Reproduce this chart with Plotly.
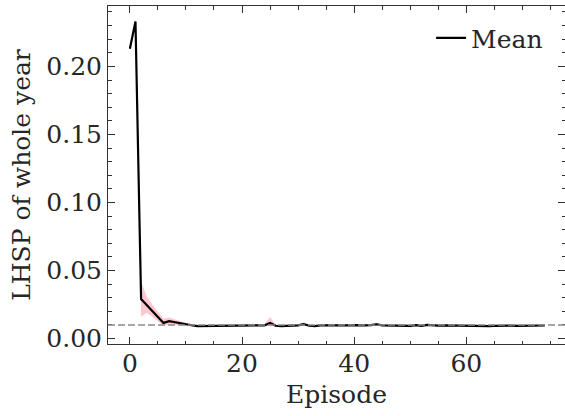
import plotly.graph_objects as go

episodes = list(range(75))
mean = [0.213, 0.233, 0.029, 0.0245, 0.0197, 0.0158, 0.0115, 0.0128, 0.0120, 0.0110,
        0.0103, 0.0098, 0.0092, 0.0092, 0.0093, 0.0094, 0.0093, 0.0094, 0.0095, 0.0094,
        0.0093, 0.0094, 0.0093, 0.0094, 0.0097, 0.0115, 0.0094, 0.0092, 0.0096, 0.0095,
        0.0097, 0.0106, 0.0094, 0.0091, 0.0097, 0.0096, 0.0095, 0.0097, 0.0096, 0.0097,
        0.0099, 0.0096, 0.0097, 0.0099, 0.0105, 0.0097, 0.0096, 0.0095, 0.0097, 0.0094,
        0.0093, 0.0098, 0.0094, 0.0100, 0.0096, 0.0095, 0.0097, 0.0096, 0.0094, 0.0093,
        0.0094, 0.0092, 0.0092, 0.0093, 0.0092, 0.0093, 0.0095, 0.0094, 0.0095, 0.0093,
        0.0093, 0.0094, 0.0095, 0.0096, 0.0096]
lower = [0.211, 0.231, 0.016, 0.019, 0.016, 0.013, 0.0095, 0.0105, 0.0100, 0.0095,
         0.0093, 0.0090, 0.0086, 0.0087, 0.0087, 0.0088, 0.0087, 0.0088, 0.0089, 0.0088,
         0.0087, 0.0088, 0.0087, 0.0088, 0.0090, 0.0095, 0.0088, 0.0086, 0.0089, 0.0089,
         0.0090, 0.0096, 0.0088, 0.0085, 0.0090, 0.0090, 0.0089, 0.0090, 0.0090, 0.0090,
         0.0092, 0.0090, 0.0090, 0.0092, 0.0096, 0.0090, 0.0090, 0.0089, 0.0090, 0.0088,
         0.0087, 0.0091, 0.0088, 0.0093, 0.0090, 0.0089, 0.0090, 0.0090, 0.0088, 0.0087,
         0.0088, 0.0086, 0.0086, 0.0087, 0.0086, 0.0087, 0.0089, 0.0088, 0.0089, 0.0087,
         0.0087, 0.0088, 0.0089, 0.0090, 0.0090]
upper = [0.215, 0.235, 0.042, 0.031, 0.025, 0.020, 0.0145, 0.0155, 0.0140, 0.0125,
         0.0115, 0.0108, 0.0100, 0.0099, 0.0101, 0.0102, 0.0100, 0.0101, 0.0103, 0.0101,
         0.0100, 0.0101, 0.0100, 0.0101, 0.0106, 0.0158, 0.0102, 0.0099, 0.0104, 0.0103,
         0.0106, 0.0118, 0.0102, 0.0098, 0.0105, 0.0104, 0.0103, 0.0105, 0.0104, 0.0105,
         0.0108, 0.0104, 0.0105, 0.0108, 0.0116, 0.0105, 0.0104, 0.0103, 0.0105, 0.0102,
         0.0100, 0.0106, 0.0102, 0.0109, 0.0104, 0.0103, 0.0105, 0.0104, 0.0102, 0.0100,
         0.0101, 0.0099, 0.0099, 0.0100, 0.0099, 0.0100, 0.0103, 0.0102, 0.0103, 0.0100,
         0.0100, 0.0101, 0.0103, 0.0104, 0.0104]
reference_level = 0.01

font = "DejaVu Serif"
fs = 25
txt = "#262626"
fig = go.Figure()
fig.add_trace(go.Scatter(x=episodes, y=lower, mode="lines", line=dict(width=0),
                         showlegend=False, hoverinfo="skip"))
fig.add_trace(go.Scatter(x=episodes, y=upper, mode="lines", line=dict(width=0),
                         fill="tonexty", fillcolor="rgba(255,182,193,0.75)",
                         showlegend=False, hoverinfo="skip"))
fig.add_trace(go.Scatter(x=episodes, y=mean, mode="lines", name="Mean",
                         line=dict(color="black", width=2.2)))
fig.add_shape(type="line", xref="paper", x0=0, x1=1, yref="y",
              y0=reference_level, y1=reference_level,
              line=dict(color="#8a8a8a", width=1.5, dash="7px,3px"))

axis_common = dict(
    showgrid=False, zeroline=False, showline=True, linecolor="#333333", linewidth=1,
    mirror="allticks", ticks="inside", ticklen=7, tickwidth=1, tickcolor="#333333",
    tickfont=dict(family=font, size=fs, color=txt), automargin=False,
)
fig.update_xaxes(range=[-3.9, 77.6], tickvals=[0, 20, 40, 60],
                 minor=dict(dtick=5, ticks="inside", ticklen=3.5, tickcolor="#333333"),
                 title=dict(text="Episode", font=dict(family=font, size=fs, color=txt),
                            standoff=8),
                 ticklabelstandoff=-3,
                 **axis_common)
fig.update_yaxes(range=[-0.004, 0.2444], tickvals=[0, 0.05, 0.1, 0.15, 0.2],
                 tickformat=".2f",
                 minor=dict(dtick=0.01, ticks="inside", ticklen=3.5, tickcolor="#333333"),
                 title=dict(text="LHSP of whole year", font=dict(family=font, size=fs, color=txt),
                            standoff=8),
                 **axis_common)
fig.update_layout(
    width=565, height=416, margin=dict(l=108, r=0, t=6, b=72, autoexpand=False),
    plot_bgcolor="white", paper_bgcolor="white",
    legend=dict(x=0.963, y=0.973, xanchor="right", yanchor="top", bgcolor="rgba(0,0,0,0)",
                font=dict(family=font, size=fs, color=txt)),
)
fig.write_html("out.html")
